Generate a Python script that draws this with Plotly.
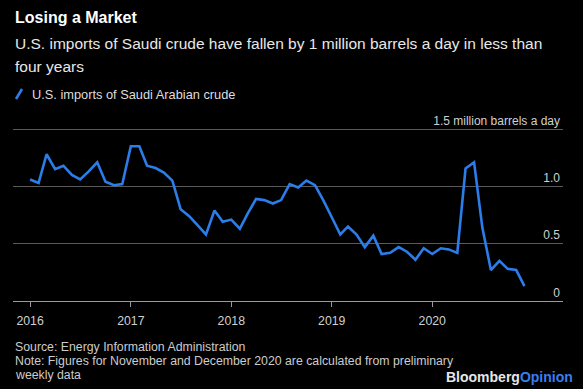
import plotly.graph_objects as go
import pandas as pd

months = pd.date_range("2016-01-01", "2020-12-01", freq="MS").strftime("%Y-%m-%d").tolist()
imports = [
    1.06, 1.03, 1.28, 1.15, 1.18, 1.10, 1.06, 1.13, 1.21, 1.04, 1.01, 1.02,
    1.35, 1.35, 1.18, 1.16, 1.12, 1.05, 0.80, 0.74, 0.66, 0.58, 0.79, 0.69,
    0.71, 0.63, 0.76, 0.89, 0.88, 0.85, 0.88, 1.02, 0.99, 1.05, 1.01, 0.88,
    0.73, 0.58, 0.65, 0.58, 0.47, 0.57, 0.41, 0.42, 0.47, 0.43, 0.36, 0.46,
    0.41, 0.46, 0.45, 0.42, 1.155, 1.21, 0.64, 0.27, 0.35, 0.28, 0.27, 0.13,
]
year_ticks = ["2016-01-01", "2017-01-01", "2018-01-01", "2019-01-01", "2020-01-01"]
year_labels = ["2016", "2017", "2018", "2019", "2020"]
y_ticks = [0, 0.5, 1.0, 1.5]
y_labels = ["0", "0.5", "1.0", "1.5 million barrels a day"]

FONT = "Liberation Sans, Arial, sans-serif"
BLUE = "#2b7de9"

W, H = 583, 389
L, R, T, B = 13, 20, 108, 88
PW, PH = W - L - R, H - T - B
Y_TOP = PH / ((H - B - 129) / 1.5)


def px(x):
    return (x - L) / PW


def py(y):
    return (H - B - y) / PH


fig = go.Figure()
fig.add_trace(go.Scatter(
    x=months, y=imports, mode="lines",
    line=dict(color=BLUE, width=2.6),
    name="U.S. imports of Saudi Arabian crude",
    showlegend=False, hoverinfo="skip",
))

fig.update_layout(
    width=W, height=H, autosize=False,
    margin=dict(l=L, r=R, t=T, b=B),
    paper_bgcolor="#000000", plot_bgcolor="#000000",
    font=dict(family=FONT, color="#cccccc", size=12),
    xaxis=dict(
        type="date", range=["2015-10-31", "2021-04-20"],
        tickvals=year_ticks, ticktext=year_labels,
        showgrid=False, zeroline=False,
        showline=True, linecolor="#9a9a9a", linewidth=1,
        ticks="outside", ticklen=5, tickcolor="#9a9a9a", tickwidth=1,
        ticklabelstandoff=3,
        tickfont=dict(size=12.3, color="#d0d0d0"),
        fixedrange=True,
    ),
    yaxis=dict(
        range=[0, Y_TOP], side="right",
        tickvals=y_ticks, ticktext=y_labels,
        ticklabelposition="inside top",
        showgrid=True, gridcolor="#5a5a5a", gridwidth=1,
        zeroline=False, showline=False, ticks="",
        tickfont=dict(size=12, color="#d0d0d0"),
        fixedrange=True,
    ),
)

ann = [
    dict(text="<b>Losing a Market</b>", x=px(13), y=py(17), size=16, color="#ffffff"),
    dict(text="U.S. imports of Saudi crude have fallen by 1 million barrels a day in less than",
         x=px(13), y=py(44), size=15.5, color="#e8e8e8"),
    dict(text="four years", x=px(13), y=py(67), size=15.5, color="#e8e8e8"),
    dict(text="U.S. imports of Saudi Arabian crude", x=px(30), y=py(94), size=12.8, color="#dddddd"),
    dict(text="Source: Energy Information Administration", x=px(13), y=py(347), size=12.3, color="#cccccc"),
    dict(text="Note: Figures for November and December 2020 are calculated from preliminary",
         x=px(13), y=py(361), size=12.3, color="#cccccc"),
    dict(text="weekly data", x=px(13), y=py(375), size=12.3, color="#cccccc"),
]
for a in ann:
    fig.add_annotation(
        text=a["text"], x=a["x"], y=a["y"], xref="paper", yref="paper",
        xanchor="left", yanchor="middle", showarrow=False,
        font=dict(family=FONT, size=a["size"], color=a["color"]),
    )

fig.add_annotation(
    text="<b><span style='color:#e6e6e6'>Bloomberg</span><span style='color:#3a7cf2'>Opinion</span></b>",
    x=px(575), y=py(377), xref="paper", yref="paper",
    xanchor="right", yanchor="middle", showarrow=False,
    font=dict(family=FONT, size=14),
)

fig.add_shape(
    type="line", xref="paper", yref="paper",
    x0=px(16), y0=py(99), x1=px(22), y1=py(89),
    line=dict(color=BLUE, width=2.6),
)

fig.write_html("out.html", config={"displayModeBar": False},
               post_script="document.body.style.margin='0';")
